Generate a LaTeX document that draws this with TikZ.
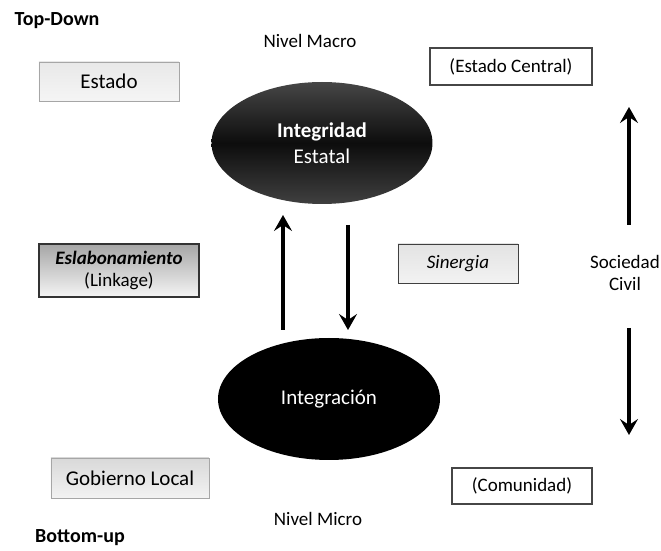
\documentclass[tikz,border=0pt]{standalone}
\usepackage{fontspec}
\setmainfont{Carlito}
\usepackage{tikz}
\usetikzlibrary{arrows.meta,positioning,shapes.geometric}

\begin{document}
\begin{tikzpicture}[
  x=0.5pt, y=-0.5pt,
  every node/.style={font=\fontsize{9.5}{11}\selectfont, align=center},
  greybox/.style={draw=gray!70, line width=0.4pt, inner sep=0pt,
    top color=gray!22, bottom color=gray!10},
  framebox/.style={draw=gray!55!black, line width=1.3pt, fill=white, inner sep=0pt},
  blob/.style={ellipse, inner sep=0pt, text=white, font=\fontsize{10.5}{13}\selectfont},
  bigarrow/.style={line width=2pt, -{Stealth[length=8pt, width=9pt, inset=3pt]}}
]
\useasboundingbox (0,0) rectangle (661,551);

\node (TD) at (57,21) {\fontsize{10}{12}\selectfont\bfseries Top-Down};
\node (BU) at (80,538) {\fontsize{10}{12}\selectfont\bfseries Bottom-up};
\node (NMa) at (310,41) {Nivel Macro};
\node (NMi) at (318,519) {Nivel Micro};

\node[greybox, top color=gray!18, bottom color=gray!8, minimum width=70pt, minimum height=19.5pt] (Est) at (109,81.5)
  {\fontsize{10.5}{12}\selectfont Estado};
\node[framebox, minimum width=81pt, minimum height=18.5pt] (EstC) at (511,66.5)
  {(Estado Central)};

\node[blob, minimum width=110.5pt, minimum height=61pt,
  top color=gray!55!black, bottom color=gray!50!black, middle color=black!95] (IE) at (322,143)
  {\textbf{Integridad}\\Estatal};
\node[blob, minimum width=111pt, minimum height=61pt, fill=black] (Int) at (329,399)
  {Integración};

\node[draw=gray!40!black, line width=0.6pt, inner sep=0pt,
  top color=gray!70, bottom color=gray!8,
  minimum width=80pt, minimum height=26.5pt] (Esl) at (119,270.5)
  {\textbf{\textit{Eslabonamiento}}\\(Linkage)};
\node[greybox, draw=gray!50!black, minimum width=60pt, minimum height=19.5pt] (Sin) at (458,263.5)
  {\textit{Sinergia}};
\node (SC) at (625,273) {Sociedad\\Civil};

\node[greybox, top color=gray!30, minimum width=79pt, minimum height=20pt] (GL) at (130,478)
  {\fontsize{10.5}{12}\selectfont Gobierno Local};
\node[framebox, minimum width=70pt, minimum height=18pt] (Com) at (522,486)
  {(Comunidad)};

\coordinate (upA) at (283,330);
\coordinate (upB) at (283,215);
\coordinate (dnA) at (348,225);
\coordinate (dnB) at (348,330);
\coordinate (scUpA) at (629,225);
\coordinate (scUpB) at (629,107);
\coordinate (scDnA) at (629,328);
\coordinate (scDnB) at (629,435);

\draw[bigarrow] (upA) -- (upB);
\draw[bigarrow] (dnA) -- (dnB);
\draw[bigarrow] (scUpA) -- (scUpB);
\draw[bigarrow] (scDnA) -- (scDnB);
\end{tikzpicture}
\end{document}
